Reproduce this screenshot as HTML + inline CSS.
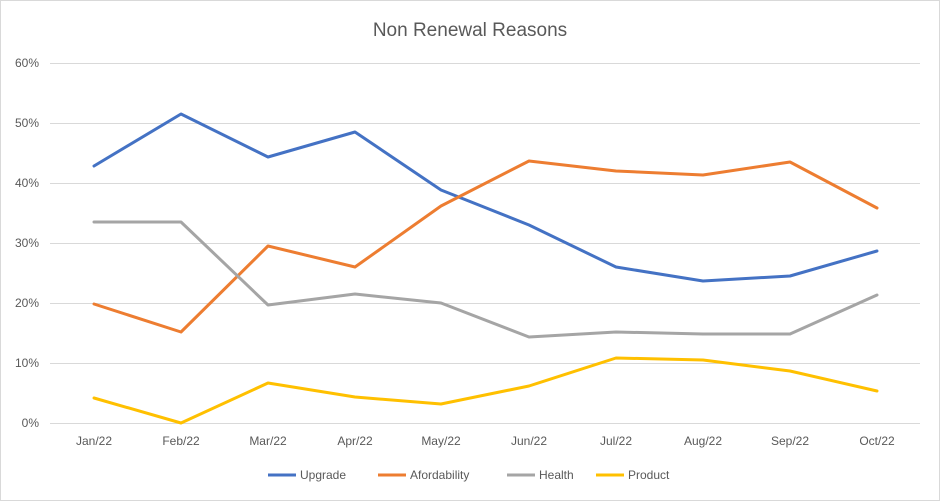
<!DOCTYPE html>
<html><head><meta charset="utf-8"><style>
html,body{margin:0;padding:0;background:#fff;}
svg{display:block;font-family:"Liberation Sans",Arial,sans-serif;}
</style></head><body>
<svg width="940" height="501" viewBox="0 0 940 501" xmlns="http://www.w3.org/2000/svg">
<rect x="0.5" y="0.5" width="939" height="500" fill="#fff" stroke="#d9d9d9"/>
<text x="470" y="36" font-size="19" fill="#595959" text-anchor="middle">Non Renewal Reasons</text>
<g stroke="#d9d9d9" stroke-width="1">
<line x1="50" y1="63.5" x2="920" y2="63.5"/>
<line x1="50" y1="123.5" x2="920" y2="123.5"/>
<line x1="50" y1="183.5" x2="920" y2="183.5"/>
<line x1="50" y1="243.5" x2="920" y2="243.5"/>
<line x1="50" y1="303.5" x2="920" y2="303.5"/>
<line x1="50" y1="363.5" x2="920" y2="363.5"/>
<line x1="50" y1="423.5" x2="920" y2="423.5"/>
</g>
<g font-size="12" fill="#595959" text-anchor="end">
<text x="39" y="67">60%</text><text x="39" y="127">50%</text><text x="39" y="187">40%</text>
<text x="39" y="247">30%</text><text x="39" y="307">20%</text><text x="39" y="367">10%</text><text x="39" y="427">0%</text>
</g>
<g font-size="12" fill="#595959" text-anchor="middle">
<text x="94" y="445">Jan/22</text><text x="181" y="445">Feb/22</text><text x="268" y="445">Mar/22</text>
<text x="355" y="445">Apr/22</text><text x="441" y="445">May/22</text><text x="529" y="445">Jun/22</text>
<text x="616" y="445">Jul/22</text><text x="703" y="445">Aug/22</text><text x="790" y="445">Sep/22</text>
<text x="877" y="445">Oct/22</text>
</g>
<g fill="none" stroke-width="3" stroke-linejoin="round" stroke-linecap="round">
<polyline stroke="#4472c4" points="94,166 181,114 268,157 355,132 441,190 529,225 616,267 703,281 790,276 877,251"/>
<polyline stroke="#ed7d31" points="94,304 181,332 268,246 355,267 441,206 529,161 616,171 703,175 790,162 877,208"/>
<polyline stroke="#a5a5a5" points="94,222 181,222 268,305 355,294 441,303 529,337 616,332 703,334 790,334 877,295"/>
<polyline stroke="#ffc000" points="94,398 181,423 268,383 355,397 441,404 529,386 616,358 703,360 790,371 877,391"/>
</g>
<g font-size="12" fill="#595959" stroke-width="3">
<line x1="268" y1="475" x2="296" y2="475" stroke="#4472c4"/><text x="300" y="479">Upgrade</text>
<line x1="378" y1="475" x2="406" y2="475" stroke="#ed7d31"/><text x="410" y="479">Afordability</text>
<line x1="507" y1="475" x2="535" y2="475" stroke="#a5a5a5"/><text x="539" y="479">Health</text>
<line x1="596" y1="475" x2="624" y2="475" stroke="#ffc000"/><text x="628" y="479">Product</text>
</g>
</svg>
</body></html>
